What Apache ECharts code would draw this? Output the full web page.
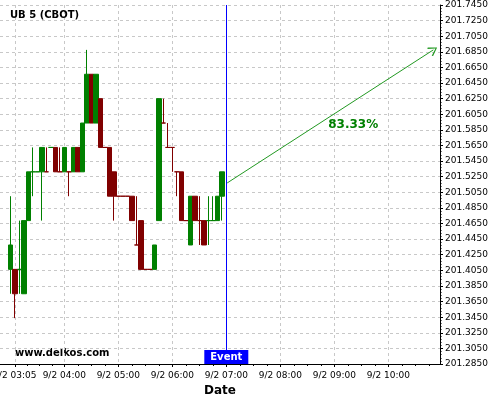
<!DOCTYPE html>
<html><head><meta charset="utf-8">
<script src="https://cdn.jsdelivr.net/npm/echarts@6/dist/echarts.min.js"></script>
<style>html,body{margin:0;padding:0;background:#fff}#c{width:500px;height:400px}</style>
</head><body><div id="c"></div>
<script>
// ---- data ----
const times = ['03:00','03:05','03:10','03:15','03:20','03:25','03:30','03:35','03:40','03:45','03:50','03:55',
  '04:00','04:05','04:10','04:15','04:20','04:25','04:30','04:35','04:40','04:45','04:50','04:55',
  '05:00','05:05','05:10','05:15','05:20','05:25','05:30','05:35','05:40','05:45','05:50','05:55',
  '06:00','06:05','06:10','06:15','06:20','06:25','06:30','06:35','06:40','06:45','06:50','06:55'];
const opens = [201.40625,201.40625,201.40625,201.375,201.46875,201.53125,201.53125,201.53125,201.53125,201.5625,201.5625,201.53125,
  201.53125,201.53125,201.53125,201.5625,201.53125,201.59375,201.65625,201.59375,201.625,201.5625,201.5625,201.53125,
  201.5,201.5,201.5,201.5,201.4375,201.46875,201.40625,201.40625,201.40625,201.46875,201.59375,201.5625,
  201.5625,201.53125,201.53125,201.46875,201.4375,201.5,201.46875,201.46875,201.46875,201.46875,201.46875,201.5];
const closes = [201.4375,201.375,201.40625,201.46875,201.53125,201.53125,201.53125,201.5625,201.53125,201.5625,201.53125,201.53125,
  201.5625,201.53125,201.5625,201.53125,201.59375,201.65625,201.59375,201.65625,201.5625,201.5625,201.5,201.5,
  201.5,201.5,201.5,201.46875,201.4375,201.40625,201.40625,201.40625,201.4375,201.625,201.59375,201.5625,
  201.5625,201.53125,201.46875,201.46875,201.5,201.46875,201.46875,201.4375,201.46875,201.46875,201.5,201.53125];
const lows = [201.375,201.34375,201.375,201.375,201.46875,201.5,201.53125,201.46875,201.53125,201.5625,201.53125,201.53125,
  201.53125,201.5,201.53125,201.53125,201.53125,201.59375,201.59375,201.59375,201.5625,201.5625,201.5,201.46875,
  201.5,201.5,201.5,201.46875,201.4375,201.40625,201.40625,201.40625,201.40625,201.46875,201.59375,201.5625,
  201.53125,201.5,201.46875,201.46875,201.4375,201.46875,201.4375,201.4375,201.4375,201.46875,201.46875,201.46875];
const highs = [201.5,201.40625,201.46875,201.46875,201.53125,201.5625,201.53125,201.5625,201.5625,201.5625,201.5625,201.5625,
  201.5625,201.53125,201.5625,201.5625,201.59375,201.6875,201.65625,201.65625,201.625,201.5625,201.5625,201.53125,
  201.5,201.5,201.5,201.5,201.5,201.46875,201.40625,201.40625,201.4375,201.625,201.625,201.59375,
  201.5625,201.53125,201.53125,201.46875,201.5,201.5,201.5,201.46875,201.5,201.5,201.5,201.53125];
const tones = ['up','down','up','up','up','up','up','up','down','up','down','down',
  'up','down','up','down','up','up','down','up','down','down','down','down',
  'down','down','down','down','down','down','down','down','up','up','down','down',
  'down','down','down','down','up','down','down','down','up','up','up','up'];
const xLabelTimes = ['03:05','04:00','05:00','06:00','07:00','08:00','09:00','10:00'];
const yTicks = [201.285,201.305,201.325,201.345,201.365,201.385,201.405,201.425,201.445,201.465,201.485,201.505,
  201.525,201.545,201.565,201.585,201.605,201.625,201.645,201.665,201.685,201.705,201.725,201.745];
const eventTime = '07:00';
const arrowFrom = ['07:01', 201.517];
const arrowTo = ['10:50', 201.6875];
const forecastLabel = '83.33%';
const forecastLabelAt = ['09:21', 201.592];
const titleText = 'UB 5 (CBOT)';
const watermark = 'www.delkos.com';
const dateDay = '9/2';

// ---- helpers ----
const T = s => { const p = s.split(':').map(Number); return p[0]*60 + p[1]; };
const pad = n => (n < 10 ? '0' : '') + n;
const fmtX = v => dateDay + ' ' + pad(Math.floor(v/60)) + ':' + pad(Math.round(v % 60));
const UP = '#008000', DOWN = '#800000';
const FONT = 'DejaVu Sans';
const xMin = 168.6, xMax = 657.4, yMin = 201.285, yMax = 201.745;

const xMajor = xLabelTimes.map(T);
const xMinorTicks = [];
for (let i = 0; i < xMajor.length - 1; i++) for (let k = 0; k < 4; k++) xMinorTicks.push(xMajor[i] + (xMajor[i+1]-xMajor[i])*k/4);
for (let v = xMajor[xMajor.length-1]; v <= xMax; v += 15) xMinorTicks.push(v);
const yMinor = [];
for (let i = 0; i < yTicks.length - 1; i++) for (let k = 1; k < 5; k++) yMinor.push(yTicks[i] + (yTicks[i+1]-yTicks[i])*k/5);

const candleData = times.map((t, i) => {
  const c = tones[i] === 'up' ? UP : DOWN;
  return { value: [T(t), opens[i], closes[i], lows[i], highs[i]],
           itemStyle: { color: c, color0: c, borderColor: c, borderColor0: c } };
});

const chart = echarts.init(document.getElementById('c'), null, { renderer: 'canvas' });
chart.setOption({
  animation: false,
  backgroundColor: '#fff',
  title: { text: titleText, left: 10, top: 10, padding: 0,
           textStyle: { fontFamily: FONT, fontSize: 10, fontWeight: 'bold', color: '#000' } },
  grid: { left: 0, right: 60, top: 5, bottom: 36, containLabel: false, outerBoundsMode: 'none' },
  xAxis: [{
    type: 'value', min: xMin, max: xMax, position: 'bottom',
    axisLine: { show: true, onZero: false, lineStyle: { color: '#000', width: 1 } },
    axisTick: { show: true, customValues: xMajor, length: 3, lineStyle: { color: '#000' } },
    axisLabel: { customValues: xMajor, formatter: fmtX, fontFamily: FONT, fontSize: 9, color: '#000', margin: 7 },
    splitLine: { show: true, lineStyle: { color: '#c8c8c8', type: [3, 3], width: 1 } },
    name: 'Date', nameLocation: 'middle', nameGap: 19,
    nameTextStyle: { fontFamily: FONT, fontSize: 12, fontWeight: 'bold', color: '#000' }
  }, {
    type: 'value', min: xMin, max: xMax, position: 'bottom',
    axisLine: { show: false },
    axisTick: { show: true, customValues: xMinorTicks, length: 2, lineStyle: { color: '#000' } },
    axisLabel: { show: false }, splitLine: { show: false }
  }],
  yAxis: [{
    type: 'value', min: yMin, max: yMax, position: 'right',
    axisLine: { show: true, onZero: false, lineStyle: { color: '#000', width: 1 } },
    axisTick: { show: true, customValues: yTicks, length: 3, lineStyle: { color: '#000' } },
    axisLabel: { customValues: yTicks, formatter: v => v.toFixed(4), fontFamily: FONT, fontSize: 9, color: '#000', margin: 5 },
    splitLine: { show: true, lineStyle: { color: '#c8c8c8', type: [3, 3], width: 1 } }
  }, {
    type: 'value', min: yMin, max: yMax, position: 'right',
    axisLine: { show: false },
    axisTick: { show: true, customValues: yMinor, length: 1.5, lineStyle: { color: '#000' } },
    axisLabel: { show: false }, splitLine: { show: false }
  }],
  graphic: [{
    type: 'text', left: 15, top: 348,
    style: { text: watermark, font: 'bold 10px "DejaVu Sans"', fill: '#000' }
  }],
  series: [{
    type: 'candlestick',
    xAxisIndex: 0, yAxisIndex: 0,
    barWidth: 5,
    data: candleData,
    itemStyle: { color: UP, color0: DOWN, borderColor: UP, borderColor0: DOWN, borderWidth: 1 },
    markLine: {
      silent: true, animation: false, symbol: ['none', 'none'],
      label: { show: false },
      lineStyle: { color: '#0000ff', width: 1, type: 'solid', opacity: 1 },
      data: [
        { xAxis: T(eventTime), lineStyle: { color: '#0000ff', width: 1, type: 'solid' } },
        [ { coord: [T(arrowFrom[0]), arrowFrom[1]], symbol: 'none', lineStyle: { color: '#229922', width: 1, type: 'solid' } },
          { coord: [T(arrowTo[0]), arrowTo[1]], symbol: 'path://M5,0 L10,8 L9,9 L5,2 L1,9 L0,8 Z', symbolSize: [10, 9],
            lineStyle: { color: '#229922', width: 1, type: 'solid' } } ]
      ]
    },
    markPoint: {
      silent: true, animation: false,
      data: [
        { coord: [T(eventTime), yMin], symbol: 'rect', symbolSize: [44, 14], symbolOffset: [0, -7],
          itemStyle: { color: '#0000ff' },
          label: { show: true, position: 'inside', formatter: 'Event', color: '#fff', fontFamily: FONT, fontSize: 10, fontWeight: 'bold' } },
        { coord: [T(forecastLabelAt[0]), forecastLabelAt[1]], symbol: 'circle', symbolSize: 1,
          itemStyle: { color: 'rgba(0,0,0,0)' },
          label: { show: true, position: 'inside', formatter: forecastLabel, color: '#008000', fontFamily: FONT, fontSize: 12, fontWeight: 'bold' } }
      ]
    }
  }]
});
</script></body></html>
